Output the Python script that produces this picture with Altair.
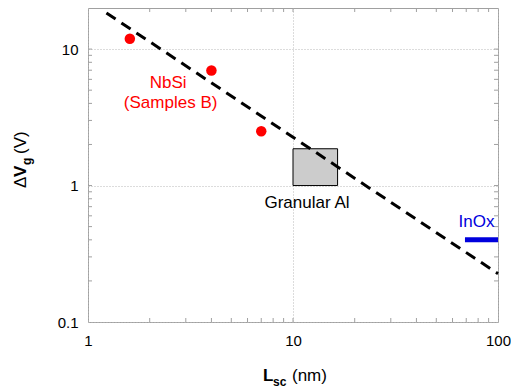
import altair as alt
import pandas as pd

# ---- data ----
nbsi_L = [1.6, 4.0, 7.0]
nbsi_V = [11.9, 6.96, 2.5]

fit_L = [1.23, 100.0]
fit_V = [18.4, 0.226]

gal_L = [10.0]
gal_L2 = [16.5]
gal_V = [1.0]
gal_V2 = [1.86]

inox_L = [69.0]
inox_L2 = [100.0]
inox_V = [0.40]

x_ticks = [2, 3, 4, 5, 6, 7, 8, 9, 10, 20, 30, 40, 50, 60, 70, 80, 90]
y_ticks = [0.2, 0.3, 0.4, 0.5, 0.6, 0.7, 0.8, 0.9, 1, 2, 3, 4, 5, 6, 7, 8, 9, 10]

ann_text = ["NbSi", "(Samples B)", "Granular Al", "InOx"]
ann_L = [2.46, 2.53, 11.7, 78.5]
ann_V = [5.6, 4.05, 0.747, 0.544]
ann_color = ["#ff0000", "#ff0000", "#000000", "#0000dd"]

W, H = 410, 314
FONT = "Liberation Sans"
GRAY = "#a0a0a0"

xs = alt.Scale(type="log", domain=[1, 100], nice=False)
ys = alt.Scale(type="log", domain=[0.1, 20], nice=False)

x_axis = alt.Axis(values=[1, 10, 100], format="~g", title=None, labelFont=FONT,
                  labelFontSize=15, labelColor="black", tickSize=0, domain=False,
                  grid=True, gridDash=[1, 2], gridColor="#b8b8b8", labelPadding=11,
                  labelFlush=False, labelOverlap=False)
y_axis = alt.Axis(values=[0.1, 1, 10], format="~g", title=None, labelFont=FONT,
                  labelFontSize=15, labelColor="black", tickSize=0, domain=False,
                  grid=True, gridDash=[1, 2], gridColor="#b8b8b8", labelPadding=10,
                  labelFlush=False, labelOverlap=False)

def X(f):
    return alt.X(f, type="quantitative", scale=xs, axis=x_axis, title=None)

def Y(f):
    return alt.Y(f, type="quantitative", scale=ys, axis=y_axis, title=None)

xt = pd.DataFrame({"t": x_ticks})
yt = pd.DataFrame({"t": y_ticks})
tick_style = dict(color=GRAY, strokeWidth=1)
xt_bot = alt.Chart(xt).mark_rule(**tick_style).encode(x=X("t"), y=alt.value(H), y2=alt.value(H - 4))
xt_top = alt.Chart(xt).mark_rule(**tick_style).encode(x=X("t"), y=alt.value(0), y2=alt.value(4))
yt_left = alt.Chart(yt).mark_rule(**tick_style).encode(y=Y("t"), x=alt.value(0), x2=alt.value(4))
yt_right = alt.Chart(yt).mark_rule(**tick_style).encode(y=Y("t"), x=alt.value(W), x2=alt.value(W - 4))

box = alt.Chart(pd.DataFrame({"L": gal_L, "L2": gal_L2, "V": gal_V, "V2": gal_V2})).mark_rect(
    fill="#cccccc", stroke="black", strokeWidth=1).encode(
    x=X("L"), x2="L2", y=Y("V"), y2="V2")

fit = alt.Chart(pd.DataFrame({"L": fit_L, "V": fit_V})).mark_line(
    color="black", strokeWidth=3, strokeDash=[11, 7]).encode(x=X("L"), y=Y("V"))

pts = alt.Chart(pd.DataFrame({"L": nbsi_L, "V": nbsi_V})).mark_circle(
    color="#ff0000", size=110, opacity=1).encode(x=X("L"), y=Y("V"))

inox = alt.Chart(pd.DataFrame({"L": inox_L, "L2": inox_L2, "V": inox_V})).mark_rule(
    color="#0000dd", strokeWidth=5).encode(x=X("L"), x2="L2", y=Y("V"))

ann = alt.Chart(pd.DataFrame({"txt": ann_text, "L": ann_L, "V": ann_V, "c": ann_color})).mark_text(
    font=FONT, fontSize=17, align="center", baseline="middle").encode(
    x=X("L"), y=Y("V"), text="txt:N", color=alt.Color("c:N", scale=None))

one = pd.DataFrame({"a": [0]})

def title_piece(txt, x, y, size, bold, angle=0):
    kw = dict(text=txt, font=FONT, fontSize=size, fontWeight="bold" if bold else "normal",
              align="left", baseline="alphabetic", color="black")
    if angle:
        kw["angle"] = angle
    return alt.Chart(one).mark_text(**kw).encode(x=alt.value(x), y=alt.value(y))

titles = [
    title_piece("L", 175, 373, 17, True),
    title_piece("sc", 185, 378, 12, True),
    title_piece("(nm)", 204, 373, 17, False),
    title_piece("Δ", -62, 180, 17, False, 270),
    title_piece("V", -62, 169, 17, True, 270),
    title_piece("g", -57, 157, 12, True, 270),
    title_piece("(V)", -62, 146, 17, False, 270),
]

chart = alt.layer(xt_bot, xt_top, yt_left, yt_right, box, fit, pts, inox, ann, *titles).properties(
    width=W, height=H,
    autosize=alt.AutoSizeParams(type="none"),
    padding={"left": 80, "top": 0, "right": 13, "bottom": 70},
).configure_view(stroke=GRAY, strokeWidth=1)

chart.save("out.html", embed_options={"renderer": "svg", "actions": False})
